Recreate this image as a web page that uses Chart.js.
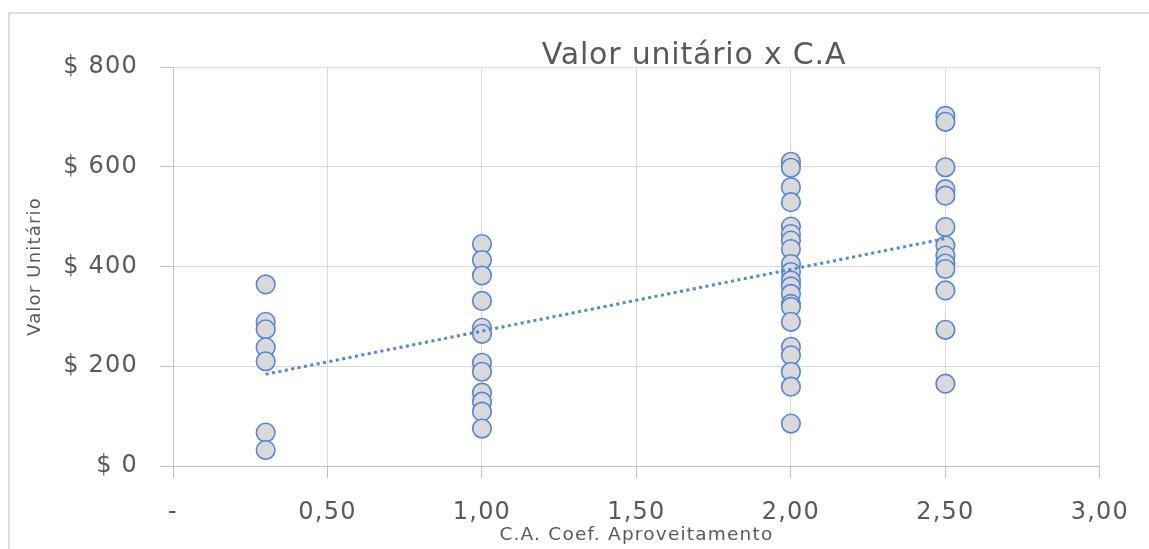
<!DOCTYPE html>
<html>
<head>
<meta charset="utf-8">
<script src="https://cdn.jsdelivr.net/npm/chart.js@4/dist/chart.umd.min.js"></script>
<style>
  html, body { margin: 0; padding: 0; background: #ffffff; }
  #wrap { position: relative; width: 1149px; height: 549px; }
</style>
</head>
<body>
<div id="wrap"><canvas id="chart" width="1149" height="549"></canvas></div>
<script>
// Coeficiente de aproveitamento (C.A.) levels and unit values observed at each
const caLevels = [0.3, 1.0, 2.0, 2.5];
const valoresCa030 = [364, 289, 274, 238, 210, 67, 32];
const valoresCa100 = [445, 413, 382, 331, 277, 265, 207, 189, 147, 129, 109, 75];
const valoresCa200 = [610, 598, 559, 529, 480, 465, 452, 435, 405, 389, 372, 360, 345, 325, 319, 289, 239, 222, 189, 159, 85];
const valoresCa250 = [702, 690, 599, 555, 542, 479, 442, 422, 406, 395, 352, 273, 165];

// Linear trend line end points
const trendX = [0.3, 2.5];
const trendY = [184, 456];

// Axis tick labels
const xTickLabels = ['-', '0,50', '1,00', '1,50', '2,00', '2,50', '3,00'];
const yTickLabels = ['$ 0', '$ 200', '$ 400', '$ 600', '$ 800'];

const chartTitle = 'Valor unitário x C.A';
const xTitle = 'C.A. Coef. Aproveitamento';
const yTitle = 'Valor Unitário';

const groups = [valoresCa030, valoresCa100, valoresCa200, valoresCa250];
const scatterPoints = [];
groups.forEach((vals, i) => vals.forEach(v => scatterPoints.push({ x: caLevels[i], y: v })));
const trendPoints = trendX.map((x, i) => ({ x: x, y: trendY[i] }));

const textColor = '#595959';
const gridColor = '#d9d9d9';
const axisColor = '#bfbfbf';
const markerBlue = '#5585d8';
const fontFamily = '"DejaVu Sans", sans-serif';

// Slightly wider lettering for all canvas text
const spacingPlugin = {
  id: 'spacing',
  beforeLayout(chart) { chart.ctx.letterSpacing = '1.2px'; },
  beforeDraw(chart) { chart.ctx.letterSpacing = '1.2px'; }
};

// Outer frame around the whole chart
const framePlugin = {
  id: 'frame',
  beforeDraw(chart) {
    const ctx = chart.ctx;
    ctx.save();
    ctx.strokeStyle = '#dedede';
    ctx.lineWidth = 2;
    ctx.strokeRect(9, 13, 1200, 600);
    ctx.restore();
  }
};

// Title drawn inside the top of the plot, over the top gridline
const titlePlugin = {
  id: 'overlayTitle',
  afterDraw(chart) {
    const ctx = chart.ctx;
    ctx.save();
    ctx.letterSpacing = '0.8px';
    ctx.font = '30px ' + fontFamily;
    ctx.fillStyle = textColor;
    ctx.textAlign = 'center';
    ctx.textBaseline = 'middle';
    ctx.fillText(chartTitle, 694, 56);
    ctx.restore();
  }
};

new Chart(document.getElementById('chart'), {
  type: 'scatter',
  data: {
    datasets: [
      {
        type: 'line',
        label: 'Tendência',
        data: trendPoints,
        borderColor: markerBlue,
        borderWidth: 3,
        borderDash: [3, 3.5],
        pointRadius: 0,
        fill: false,
        order: 0
      },
      {
        label: 'Valor Unitário',
        data: scatterPoints,
        pointRadius: 9.3,
        pointHoverRadius: 9.3,
        backgroundColor: '#d9d9d9',
        borderColor: markerBlue,
        borderWidth: 1.6,
        order: 1
      }
    ]
  },
  options: {
    responsive: false,
    animation: false,
    events: [],
    layout: { padding: { left: 22, right: 47, top: 67, bottom: 0 } },
    plugins: {
      legend: { display: false },
      title: { display: false },
      tooltip: { enabled: false }
    },
    scales: {
      x: {
        type: 'linear',
        min: 0,
        max: 3,
        afterBuildTicks(scale) {
          scale.ticks = xTickLabels.map((_, i) => ({ value: i * 0.5 }));
        },
        afterFit(scale) { scale.height = 83; },
        ticks: {
          callback: (value, index) => xTickLabels[index],
          color: textColor,
          font: { family: fontFamily, size: 24 },
          padding: 20,
          maxRotation: 0,
          autoSkip: false
        },
        grid: { color: gridColor, lineWidth: 1, tickLength: 12, tickColor: axisColor },
        border: { color: axisColor, width: 1 },
        title: {
          display: true,
          text: xTitle,
          color: textColor,
          font: { family: fontFamily, size: 18.5 },
          padding: { top: 0, bottom: 3 }
        }
      },
      y: {
        type: 'linear',
        min: 0,
        max: 800,
        afterBuildTicks(scale) {
          scale.ticks = yTickLabels.map((_, i) => ({ value: i * 200 }));
        },
        afterFit(scale) { scale.width = 151; },
        ticks: {
          callback: (value, index) => yTickLabels[index],
          color: textColor,
          font: { family: fontFamily, size: 24 },
          padding: 22
        },
        grid: { color: gridColor, lineWidth: 1, tickLength: 13, tickColor: axisColor },
        border: { color: axisColor, width: 1 },
        title: {
          display: true,
          text: yTitle,
          color: textColor,
          font: { family: fontFamily, size: 18 },
          padding: { top: 3, bottom: 0 }
        }
      }
    }
  },
  plugins: [spacingPlugin, framePlugin, titlePlugin]
});
</script>
</body>
</html>
